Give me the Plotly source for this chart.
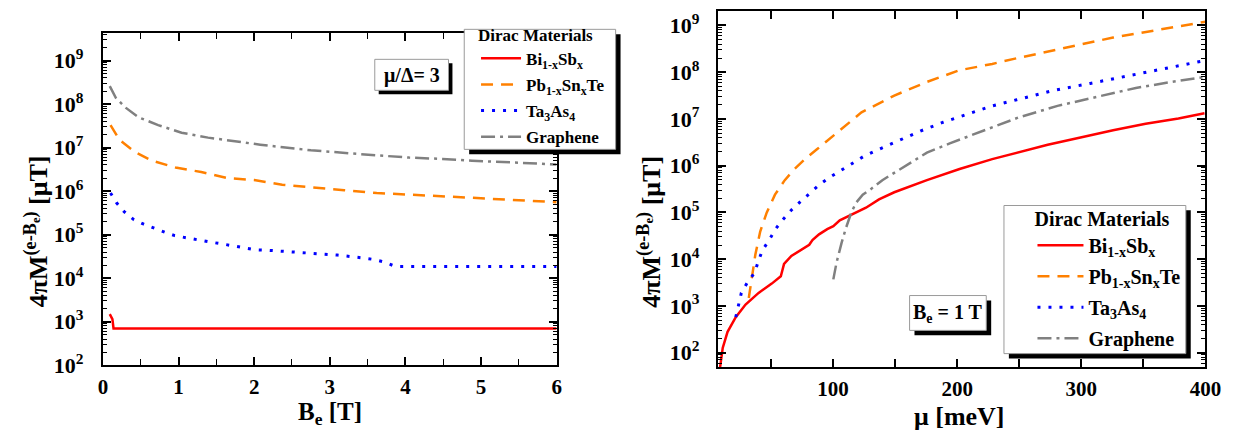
import plotly.graph_objects as go

W, H = 1242, 438
FONT = "Liberation Serif"

# ---------------- data: left panel (vs B_e) ----------------
be_bi = [0.09, 0.125, 0.14, 6.0]
m_bi_be = [1.5e3, 1.15e3, 700, 700]

be_pb = [0.1, 0.22, 0.43, 0.65, 0.96, 1.30, 1.65, 2.0, 2.37, 2.84, 3.19, 3.62, 4.06, 4.58, 4.88, 5.5, 6.0]
m_pb_be = [3.3e7, 1.5e7, 7.8e6, 5.0e6, 3.5e6, 2.75e6, 2.0e6, 1.8e6, 1.4e6, 1.17e6, 1.05e6, 9.1e5, 8.3e5,
           7.4e5, 7.1e5, 6.3e5, 5.6e5]

be_ta = [0.1, 0.18, 0.28, 0.41, 0.54, 0.68, 0.83, 0.95, 1.10, 1.25, 1.41, 1.56, 1.71, 1.87, 2.02, 2.17,
         2.34, 2.49, 2.79, 3.10, 3.42, 3.58, 3.72, 3.87, 6.0]
m_ta_be = [9.1e5, 5.4e5, 3.4e5, 2.2e5, 1.74e5, 1.38e5, 1.12e5, 9.5e4, 8.5e4, 7.4e4, 6.8e4, 6.2e4, 5.6e4,
           4.9e4, 4.5e4, 4.4e4, 4.2e4, 4.1e4, 3.7e4, 3.4e4, 2.95e4, 2.7e4, 2.35e4, 1.86e4, 1.86e4]

be_gr = [0.09, 0.17, 0.30, 0.47, 0.73, 1.04, 1.39, 1.73, 2.08, 2.38, 2.75, 3.40, 4.05, 4.49, 4.88, 5.5, 6.0]
m_gr_be = [2.6e8, 1.4e8, 8.3e7, 5.0e7, 3.3e7, 2.2e7, 1.7e7, 1.4e7, 1.17e7, 1.02e7, 8.7e6, 7.1e6, 5.9e6,
           5.5e6, 5.0e6, 4.5e6, 4.1e6]

# ---------------- data: right panel (vs mu) ----------------
mu_bi = [8.5, 9.0, 11.1, 15.0, 21.6, 29.5, 40.0, 50.6, 57.9, 60.5, 66.4, 74.3, 80.8, 83.4, 88.7, 95.3,
         100.2, 105.4, 116, 126.5, 137, 149.3, 175.6, 201.9, 228.2, 254.5, 272.9, 299.3, 325.6, 351.8,
         378.2, 399.2]
m_bi_mu = [32, 49, 126, 280, 575, 1070, 1900, 3000, 4300, 7900, 1.17e4, 1.62e4, 2.04e4, 2.57e4, 3.4e4,
           4.4e4, 5.1e4, 6.8e4, 9.3e4, 1.26e5, 1.9e5, 2.7e5, 4.9e5, 8.5e5, 1.38e6, 2.1e6, 2.8e6, 4.0e6,
           5.75e6, 7.9e6, 1.02e7, 1.32e7]

mu_pb = [32.1, 34.8, 37.4, 41.3, 46.6, 53.2, 61.1, 69.0, 78.2, 87, 99.2, 122.9, 149.3, 175.6, 201.8,
         228.2, 246.6, 272.9, 299.3, 325.6, 351.8, 378.2, 400]
m_pb_mu = [1480, 4900, 1.26e4, 3.9e4, 1.0e5, 2.4e5, 4.9e5, 8.5e5, 1.45e6, 2.24e6, 4.2e6, 1.38e7, 3.16e7,
           6.2e7, 1.1e8, 1.5e8, 1.95e8, 2.8e8, 3.9e8, 5.5e8, 7.2e8, 9.8e8, 1.2e9]

mu_ta = [21.6, 23.7, 26.1, 31.3, 36.8, 39.9, 43.1, 49.2, 53.6, 59.7, 66.8, 74.1, 82.0, 89.4, 97.8, 107,
         115.4, 124.1, 133.5, 151.9, 170.3, 188.7, 208.5, 228.2, 247.9, 278.2, 307.2, 338.7, 367.6, 397.9]
m_ta_mu = [575, 1070, 1900, 3300, 5100, 9300, 1.55e4, 2.75e4, 4.4e4, 7.1e4, 1.15e5, 1.74e5, 2.7e5, 4.0e5,
           5.75e5, 8.1e5, 1.15e6, 1.55e6, 2.04e6, 3.4e6, 5.5e6, 8.5e6, 1.26e7, 1.9e7, 2.57e7, 4.1e7,
           5.75e7, 8.5e7, 1.2e8, 1.74e8]

mu_gr = [100.2, 102.8, 106.8, 110.2, 114.7, 118.6, 123.9, 130.8, 139.7, 147.1, 159.8, 175.6, 194, 212.4,
         230.8, 249.2, 280.8, 312.4, 343.9, 372.9, 400]
m_gr_mu = [3700, 8500, 2.2e4, 4.5e4, 1.0e5, 1.62e5, 2.4e5, 3.2e5, 4.9e5, 6.5e5, 1.07e6, 1.9e6, 3.0e6,
           4.6e6, 7.2e6, 1.07e7, 1.9e7, 3.0e7, 4.6e7, 6.2e7, 7.9e7]

names = ["Bi<sub>1-x</sub>Sb<sub>x</sub>", "Pb<sub>1-x</sub>Sn<sub>x</sub>Te",
         "Ta<sub>3</sub>As<sub>4</sub>", "Graphene"]
colors = ["#ff0000", "#ff8000", "#0000ff", "#808080"]
dashes = ["solid", "12px,8px", "3px,8px", "14px,5px,3px,5px"]
widths = [2.5, 2.5, 3, 2.5]

y_major = [10 ** k for k in range(2, 10)]
y_major_txt = ["10<sup>%d</sup>" % k for k in range(2, 10)]
y_minor = [m * 10 ** k for k in range(1, 10) for m in range(2, 10)]

fig = go.Figure()

left = [(be_bi, m_bi_be), (be_pb, m_pb_be), (be_ta, m_ta_be), (be_gr, m_gr_be)]
right = [(mu_bi, m_bi_mu), (mu_pb, m_pb_mu), (mu_ta, m_ta_mu), (mu_gr, m_gr_mu)]

for i, (x, y) in enumerate(left):
    fig.add_trace(go.Scatter(x=x, y=y, mode="lines", name=names[i], xaxis="x", yaxis="y",
                             legend="legend", legendgroup="L%d" % i,
                             line=dict(color=colors[i], width=widths[i], dash=dashes[i])))
for i, (x, y) in enumerate(right):
    fig.add_trace(go.Scatter(x=x, y=y, mode="lines", name=names[i], xaxis="x2", yaxis="y2",
                             legend="legend2", legendgroup="R%d" % i,
                             line=dict(color=colors[i], width=widths[i], dash=dashes[i])))


def px(x):
    return x / W


def py(y):
    return 1 - y / H


axis_common = dict(showline=True, linewidth=2, linecolor="black", mirror="ticks", ticks="inside",
                   ticklen=8, tickwidth=1.5, tickcolor="black", showgrid=False, zeroline=False)

fig.update_layout(
    width=W, height=H, margin=dict(l=0, r=0, t=0, b=0),
    paper_bgcolor="white", plot_bgcolor="white",
    font=dict(family=FONT, color="black"),
    xaxis=dict(domain=[px(91.5), px(553)], range=[0, 6], tickvals=[0, 1, 2, 3, 4, 5, 6],
               tickfont=dict(size=21, weight="bold", family=FONT), ticklabelstandoff=2,
               minor=dict(dtick=0.5, ticks="inside", ticklen=6, tickwidth=1.2, tickcolor="black"),
               anchor="y", **axis_common),
    yaxis=dict(domain=[py(368), py(25)], type="log", range=[2, 9.63], tickvals=y_major,
               ticktext=y_major_txt, tickfont=dict(size=22, weight="bold", family=FONT),
               ticklabelstandoff=13,
               minor=dict(tickvals=y_minor, ticks="inside", ticklen=4, tickwidth=1, tickcolor="black"),
               anchor="x", **axis_common),
    xaxis2=dict(domain=[px(717), px(1213)], range=[7.2, 400], tickvals=[100, 200, 300, 400],
                tickfont=dict(size=21, weight="bold", family=FONT), ticklabelstandoff=2,
                minor=dict(tickvals=[50, 150, 250, 350], ticks="inside", ticklen=8, tickwidth=1.5,
                           tickcolor="black"),
                anchor="y2", **axis_common),
    yaxis2=dict(domain=[py(370), py(2)], type="log", range=[1.69, 9.31], tickvals=y_major,
                ticktext=y_major_txt, tickfont=dict(size=22, weight="bold", family=FONT),
                ticklabelstandoff=12,
                minor=dict(tickvals=y_minor, ticks="inside", ticklen=4, tickwidth=1, tickcolor="black"),
                anchor="x2", **axis_common),
    legend=dict(x=px(471), y=py(10), xanchor="left", yanchor="top", bgcolor="rgba(0,0,0,0)",
                borderwidth=0, font=dict(size=17, weight="bold", family=FONT),
                title=dict(text="Dirac Materials", font=dict(size=17, weight="bold", family=FONT)),
                itemwidth=40, traceorder="grouped", tracegroupgap=1),
    legend2=dict(x=px(1037), y=py(197), xanchor="left", yanchor="top", bgcolor="rgba(0,0,0,0)",
                 borderwidth=0, font=dict(size=20, weight="bold", family=FONT),
                 title=dict(text="Dirac Materials", font=dict(size=20, weight="bold", family=FONT)),
                 itemwidth=46, traceorder="grouped", tracegroupgap=2),
)


def box(x0, y0, x1, y1, off=5):
    fig.add_shape(type="rect", xref="paper", yref="paper", x0=px(x0 + off), x1=px(x1 + off),
                  y0=py(y1 + off), y1=py(y0 + off), fillcolor="black", line=dict(width=0), layer="above")
    fig.add_shape(type="rect", xref="paper", yref="paper", x0=px(x0), x1=px(x1), y0=py(y1), y1=py(y0),
                  fillcolor="white", line=dict(color="#9a9a9a", width=1), layer="above")


box(459, 21, 613, 145)
box(1008, 203, 1193, 356)
box(368, 52, 443, 84, off=4)
box(912, 296, 990, 332, off=5)

ann = [
    dict(x=px(406), y=py(69), text="μ/Δ= 3", size=20),
    dict(x=px(951), y=py(315), text="B<sub>e</sub> = 1 T", size=20),
    dict(x=px(322), y=py(418), text="B<sub>e</sub> [T]", size=25),
    dict(x=px(963), y=py(421), text="μ [meV]", size=26),
]
for a in ann:
    fig.add_annotation(x=a["x"], y=a["y"], xref="paper", yref="paper", text=a["text"], showarrow=False,
                       xanchor="center", yanchor="middle",
                       font=dict(size=a["size"], weight="bold", family=FONT, color="black"))

for xc in (24, 648):
    fig.add_annotation(x=px(xc), y=py(230), xref="paper", yref="paper",
                       text="4πM<sup>(e-B<sub>e</sub>)</sup> [μT]", textangle=-90, showarrow=False,
                       xanchor="center", yanchor="middle",
                       font=dict(size=26, weight="bold", family=FONT, color="black"))

fig.write_html("out.html")
